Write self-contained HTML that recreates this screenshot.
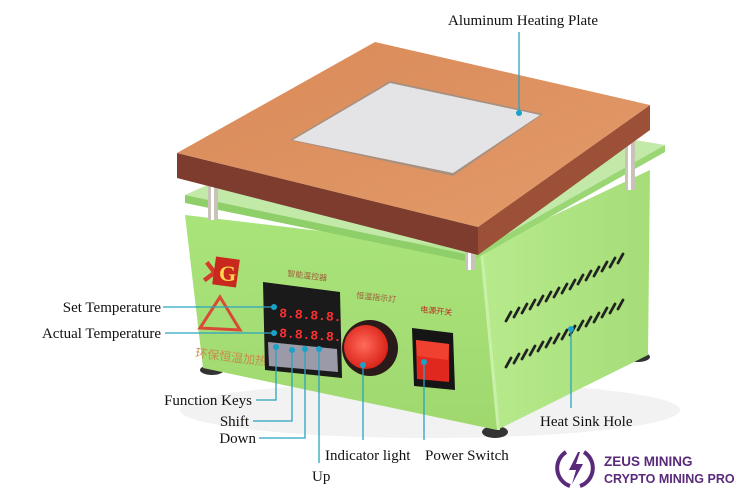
<!DOCTYPE html>
<html><head><meta charset="utf-8"><style>
html,body{margin:0;padding:0;background:#fff;}
svg{display:block}
.l{font-family:"Liberation Serif",serif;font-size:15px;fill:#111}
.c{font-family:"Liberation Sans","Noto Sans CJK SC",sans-serif}
</style></head><body>
<svg width="750" height="500" viewBox="0 0 750 500" xmlns="http://www.w3.org/2000/svg">
<defs>
<linearGradient id="top" x1="0" y1="0" x2="1" y2="1"><stop offset="0" stop-color="#d98a58"/><stop offset="1" stop-color="#e39a6a"/></linearGradient>
<linearGradient id="gf" x1="0" y1="0" x2="0" y2="1"><stop offset="0" stop-color="#a9e47a"/><stop offset="1" stop-color="#9fd86e"/></linearGradient>
<linearGradient id="gs" x1="0" y1="0" x2="1" y2="0"><stop offset="0" stop-color="#b7ea8c"/><stop offset="1" stop-color="#a6dd78"/></linearGradient>
<radialGradient id="red" cx="0.45" cy="0.45" r="0.6"><stop offset="0" stop-color="#ff6a5a"/><stop offset="1" stop-color="#d81e14"/></radialGradient>
</defs>
<ellipse cx="430" cy="410" rx="250" ry="28" fill="#f2f2f2"/>
<ellipse cx="212" cy="370" rx="12" ry="5" fill="#333"/>
<ellipse cx="495" cy="432" rx="13" ry="6" fill="#333"/>
<ellipse cx="638" cy="357" rx="12" ry="5" fill="#333"/>
<polygon points="480,250 650,170 648,355 497,430" fill="url(#gs)"/>
<polygon points="185,215 480,250 497,430 203,368" fill="url(#gf)"/>
<polygon points="480,250 497,430 500,430 483,250" fill="#c8f0a8"/>
<polygon points="185,195 395,100 665,145 470,255" fill="#b9e59a" opacity="0.85"/>
<polygon points="185,195 470,255 470,262 185,203" fill="#8fcf6a"/>
<polygon points="470,255 665,145 665,152 470,262" fill="#9ad673"/>
<rect x="208" y="178" width="10" height="42" fill="#c9c2b8"/><rect x="211" y="178" width="3" height="42" fill="#fff"/>
<rect x="465" y="240" width="11" height="30" fill="#c9c2b8"/><rect x="468" y="240" width="3" height="30" fill="#fff"/>
<rect x="625" y="130" width="10" height="60" fill="#c9c2b8"/><rect x="628" y="130" width="3" height="60" fill="#fff"/>
<polygon points="177,153 478,227 478,255 177,178" fill="#7e3c2e"/>
<polygon points="478,227 650,105 650,130 478,255" fill="#9c5038"/>
<polygon points="177,153 375,42 650,105 478,227" fill="url(#top)"/>
<polygon points="290,140 390,81 543,114 453,176" fill="#a89080"/>
<polygon points="293,140 390,83 540,115 453,173" fill="#e4e4e6"/>
<g stroke="#222" stroke-width="2.8" stroke-linecap="round">
<path d="M506,321 l5,-9 M514,317 l5,-9 M522,313 l5,-9 M530,309 l5,-9 M538,305 l5,-9 M546,301 l5,-9 M554,297 l5,-9 M562,293 l5,-9 M570,289 l5,-9 M578,284 l5,-9 M586,280 l5,-9 M594,276 l5,-9 M602,271 l5,-9 M610,267 l5,-9 M618,263 l5,-9"/>
<path d="M506,367 l5,-9 M514,363 l5,-9 M522,359 l5,-9 M530,355 l5,-9 M538,351 l5,-9 M546,347 l5,-9 M554,343 l5,-9 M562,339 l5,-9 M570,335 l5,-9 M578,330 l5,-9 M586,326 l5,-9 M594,322 l5,-9 M602,317 l5,-9 M610,313 l5,-9 M618,309 l5,-9"/>
</g>
<text x="200" y="285" font-size="34" font-weight="bold" fill="#d53a2a" font-family="Liberation Serif,serif" transform="rotate(8 215 275)">✕</text>
<rect x="214" y="258" width="24" height="28" fill="#c8281e" transform="rotate(8 226 272)"/>
<text x="219" y="281" font-size="22" font-weight="bold" fill="#ffd54a" font-family="Liberation Serif,serif">G</text>
<polygon points="220,297 240,330 200,328" fill="none" stroke="#d84a35" stroke-width="3"/>
<text x="195" y="357" class="c" font-size="12" fill="#c98a4c" transform="rotate(7 195 357)">环保恒温加热台</text>
<text x="287" y="276" class="c" font-size="8" fill="#a05a3a" transform="rotate(7 287 276)">智能温控器</text>
<text x="356" y="298" class="c" font-size="8" fill="#a05a3a" transform="rotate(6 356 298)">恒温指示灯</text>
<text x="420" y="312" class="c" font-size="8" fill="#c02a20" transform="rotate(6 420 312)">电源开关</text>
<polygon points="263,282 340,292 342,378 265,370" fill="#1a1a1a"/>
<polygon points="268,342 337,349 338,372 269,366" fill="#9a9aa8"/>
<text x="279" y="317" font-family="Liberation Mono,monospace" font-size="13" font-weight="bold" fill="#ff3030" transform="rotate(4 279 317)">8.8.8.8.</text>
<text x="279" y="337" font-family="Liberation Mono,monospace" font-size="13" font-weight="bold" fill="#ff3030" transform="rotate(4 279 337)">8.8.8.8.</text>
<circle cx="370" cy="348" r="28" fill="#2a1a1a"/>
<circle cx="366" cy="347" r="22" fill="url(#red)"/>
<polygon points="412,328 453,333 455,390 414,386" fill="#151515"/>
<polygon points="416,340 449,344 449,382 417,379" fill="#e0281e"/>
<polygon points="416,340 449,344 448,360 417,356" fill="#f04030"/>
<g stroke="#2aa3c0" stroke-width="1.3" fill="none">
<path d="M519,113 V32"/>
<path d="M163,307 H274"/>
<path d="M165,333 H274"/>
<path d="M256,400 H276 V348"/>
<path d="M253,421 H292 V351"/>
<path d="M259,438 H305 V350"/>
<path d="M319,350 V463"/>
<path d="M363,365 V440"/>
<path d="M424,360 V440"/>
<path d="M571,329 V408"/>
</g>
<g fill="#1aa2c8">
<circle cx="519" cy="113" r="3"/><circle cx="274" cy="307" r="3"/><circle cx="274" cy="333" r="3"/>
<circle cx="276" cy="347" r="3"/><circle cx="292" cy="350" r="3"/><circle cx="305" cy="349" r="3"/><circle cx="319" cy="349" r="3"/>
<circle cx="363" cy="365" r="3"/><circle cx="424" cy="362" r="3"/><circle cx="571" cy="329" r="3"/>
</g>
<text class="l" x="448" y="25">Aluminum Heating Plate</text>
<text class="l" x="161" y="312" text-anchor="end">Set Temperature</text>
<text class="l" x="161" y="338" text-anchor="end">Actual Temperature</text>
<text class="l" x="252" y="405" text-anchor="end">Function Keys</text>
<text class="l" x="249" y="426" text-anchor="end">Shift</text>
<text class="l" x="256" y="443" text-anchor="end">Down</text>
<text class="l" x="312" y="481">Up</text>
<text class="l" x="325" y="460">Indicator light</text>
<text class="l" x="425" y="460">Power Switch</text>
<text class="l" x="540" y="426">Heat Sink Hole</text>
<path d="M566,452 A19,19 0 0 0 570,486 M584,452 A19,19 0 0 1 580,486" stroke="#5a2a7a" stroke-width="4" fill="none"/>
<polygon points="578,452 569,470 576,470 572,484 583,464 576,464 580,452" fill="#5a2a7a"/>
<text x="604" y="466" font-family="Liberation Sans,sans-serif" font-size="13.5" font-weight="bold" fill="#5a2a7a">ZEUS MINING</text>
<text x="604" y="483" font-family="Liberation Sans,sans-serif" font-size="12.5" font-weight="bold" fill="#5a2a7a">CRYPTO MINING PRO</text>
</svg>
</body></html>
